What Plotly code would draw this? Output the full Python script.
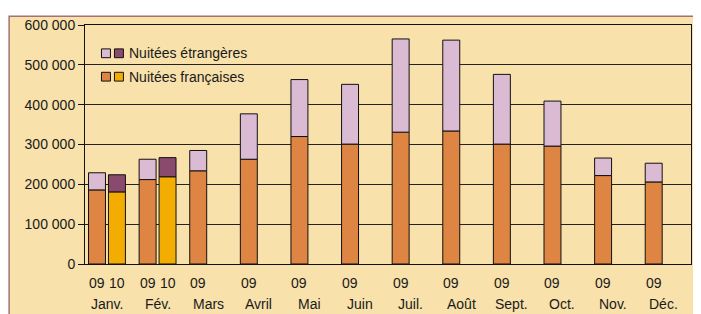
import plotly.graph_objects as go

months = ["Janv.", "Fév.", "Mars", "Avril", "Mai", "Juin", "Juil.", "Août", "Sept.", "Oct.", "Nov.", "Déc."]
year_labels_09 = ["09"] * 12
year_labels_10 = ["10", "10", None, None, None, None, None, None, None, None, None, None]

fr_09 = [186000, 212000, 234000, 263000, 320000, 301000, 331000, 334000, 301000, 296000, 222000, 206000]
total_09 = [229000, 263000, 285000, 377000, 463000, 451000, 565000, 562000, 476000, 409000, 266000, 253000]
fr_10 = [181000, 219000, None, None, None, None, None, None, None, None, None, None]
total_10 = [224000, 267000, None, None, None, None, None, None, None, None, None, None]

et_09 = [t - f for t, f in zip(total_09, fr_09)]
et_10 = [(t - f) if t is not None else None for t, f in zip(total_10, fr_10)]

yticks = [0, 100000, 200000, 300000, 400000, 500000, 600000]
ytick_text = ["0", "100 000", "200 000", "300 000", "400 000", "500 000", "600 000"]

C_FR09 = "#DE8543"
C_FR10 = "#F2AD00"
C_ET09 = "#DBBAD3"
C_ET10 = "#8A4A6E"
BG = "#F8E1AA"

x = list(range(12))
W = 0.335
OFF09 = -0.197 - W / 2
OFF10 = 0.197 - W / 2
line = dict(color="#111111", width=1)

fig = go.Figure()
fig.add_trace(go.Bar(x=x, y=fr_09, base=0, width=W, offset=OFF09, marker=dict(color=C_FR09, line=line), name="Nuitées françaises 09"))
fig.add_trace(go.Bar(x=x, y=et_09, base=fr_09, width=W, offset=OFF09, marker=dict(color=C_ET09, line=line), name="Nuitées étrangères 09"))
fig.add_trace(go.Bar(x=x, y=fr_10, base=0, width=W, offset=OFF10, marker=dict(color=C_FR10, line=line), name="Nuitées françaises 10"))
fig.add_trace(go.Bar(x=x, y=et_10, base=[v if v is not None else 0 for v in fr_10], width=W, offset=OFF10, marker=dict(color=C_ET10, line=line), name="Nuitées étrangères 10"))

# page body has an 8px margin: figure occupies window pixels 8..701, 8..314
OX, OY = 8, 8
FW, FH = 701 - OX, 314 - OY
# plot area in window pixels
PL, PR, PT, PB = 85, 692, 19, 264
L, R, T, B = PL - OX, (OX + FW) - PR, PT - OY, (OY + FH) - PB
PW = PR - PL
PH = PB - PT

def px(xp):
    return (xp - PL) / PW

def py(yp):
    return (PB - yp) / PH

shapes = [
    dict(type="rect", xref="paper", yref="paper", x0=px(9), x1=px(720), y0=py(340), y1=py(10),
         fillcolor=BG, line=dict(color="#A87070", width=1.5), layer="below"),
]
annotations = []

legend_rows = [("Nuitées étrangères", C_ET09, C_ET10, 48), ("Nuitées françaises", C_FR09, C_FR10, 72)]
for label, c1, c2, yc in legend_rows:
    for cx, col in ((106, c1), (119, c2)):
        shapes.append(dict(type="rect", xref="paper", yref="paper", x0=px(cx - 4.5), x1=px(cx + 4.5),
                           y0=py(yc + 4.5), y1=py(yc - 4.5), fillcolor=col, line=dict(color="#111111", width=1)))
    annotations.append(dict(xref="paper", yref="paper", x=px(127), y=py(yc), text=label, showarrow=False,
                            xanchor="left", yanchor="middle", font=dict(size=14, color="#1a1a1a")))

for i in x:
    annotations.append(dict(xref="x", yref="paper", x=i - 0.197, y=py(283), text=year_labels_09[i], showarrow=False,
                            xanchor="center", yanchor="middle", font=dict(size=14, color="#1a1a1a")))
    if year_labels_10[i]:
        annotations.append(dict(xref="x", yref="paper", x=i + 0.197, y=py(283), text=year_labels_10[i], showarrow=False,
                                xanchor="center", yanchor="middle", font=dict(size=14, color="#1a1a1a")))
    annotations.append(dict(xref="x", yref="paper", x=i, y=py(305), text=months[i], showarrow=False,
                            xanchor="center", yanchor="middle", font=dict(size=14, color="#1a1a1a")))

fig.update_layout(
    width=FW, height=FH,
    margin=dict(l=L, r=R, t=T, b=B, pad=0),
    paper_bgcolor="white",
    plot_bgcolor="rgba(0,0,0,0)",
    barmode="overlay",
    showlegend=False,
    font=dict(family="Liberation Sans, Arial, sans-serif", size=14, color="#1a1a1a"),
    shapes=shapes,
    annotations=annotations,
    xaxis=dict(range=[-0.434, 11.54], showticklabels=False, showgrid=False, zeroline=False,
               showline=True, linecolor="#111111", linewidth=1, mirror=True, ticks=""),
    yaxis=dict(range=[0, 600000], tickvals=yticks, ticktext=ytick_text, showgrid=True,
               gridcolor="#222222", gridwidth=1, zeroline=False, showline=True, linecolor="#111111",
               linewidth=1, mirror=True, ticks="outside", ticklen=6, tickcolor="#111111",
               tickfont=dict(size=14, color="#1a1a1a")),
)

fig.write_html("out.html")
